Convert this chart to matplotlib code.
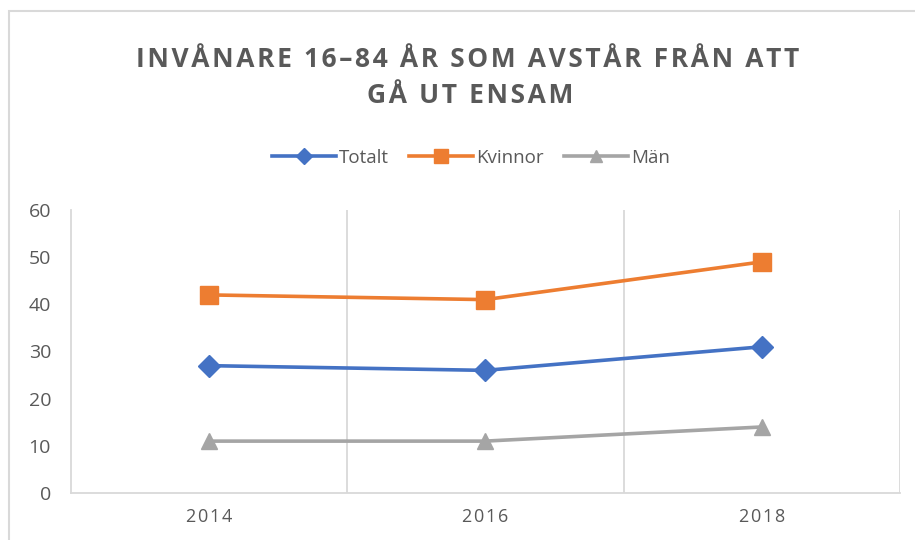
import matplotlib
matplotlib.use("Agg")
import matplotlib.pyplot as plt
from matplotlib.patches import Rectangle

years = ["2014", "2016", "2018"]
totalt = [27, 26, 31]
kvinnor = [42, 41, 49]
man = [11, 11, 14]

W, H = 915, 540
fig = plt.figure(figsize=(W / 100, H / 100), dpi=100)
fig.patch.set_facecolor("white")

# chart frame
fig.patches.append(Rectangle((9 / W, -0.1), 2, 1.1 - 11 / H, transform=fig.transFigure,
                             fill=False, edgecolor="#D9D9D9", linewidth=1.5))

ax = fig.add_axes([70.5 / W, (H - 493) / H, (900 - 70.5) / W, (493 - 210) / H])
x = list(range(len(years)))
txt = "#595959"
fam = ["Open Sans", "DejaVu Sans"]

ax.plot(x, totalt, color="#4472C4", lw=2.6, marker="D", ms=11, label="Totalt")
ax.plot(x, kvinnor, color="#ED7D31", lw=2.6, marker="s", ms=13, label="Kvinnor")
ax.plot(x, man, color="#A5A5A5", lw=2.6, marker="^", ms=12, label="Män")

ax.set_xlim(-0.5, len(years) - 0.5)
ax.set_ylim(0, 60)
ax.set_yticks(range(0, 61, 10))
ax.set_xticks(x)
ax.set_xticklabels(["\u200a".join(y) for y in years], family=fam, fontsize=13, color=txt)
for lab in ax.get_yticklabels():
    lab.set_family(fam)
ax.tick_params(axis="y", length=0, pad=14, labelsize=14, labelcolor=txt)
ax.tick_params(axis="x", length=0, pad=11)
for xv in [i + 0.5 for i in x]:
    ax.axvline(xv, color="#D9D9D9", lw=1.3, zorder=0)
for s in ["top", "right"]:
    ax.spines[s].set_visible(False)
for s in ["left", "bottom"]:
    ax.spines[s].set_color("#D9D9D9")
    ax.spines[s].set_linewidth(1.3)

def spaced(s):
    return "\u200a".join(s)

fig.text(468 / W, 1 - 67 / H, spaced("INVÅNARE 16–84 ÅR SOM AVSTÅR FRÅN ATT"), ha="center", va="baseline",
         fontsize=19, fontweight="bold", color=txt, family=fam)
fig.text(470 / W, 1 - 103 / H, spaced("GÅ UT ENSAM"), ha="center", va="baseline",
         fontsize=19, fontweight="bold", color=txt, family=fam)

leg = fig.legend(loc="center", bbox_to_anchor=(471 / W, 1 - 158 / H), ncol=3, frameon=False,
                 prop={"family": fam, "size": 13.5}, handlelength=3.4, handletextpad=0.15,
                 columnspacing=1.1, markerscale=0.75)
for t in leg.get_texts():
    t.set_color(txt)

fig.savefig("out.png", dpi=100)
